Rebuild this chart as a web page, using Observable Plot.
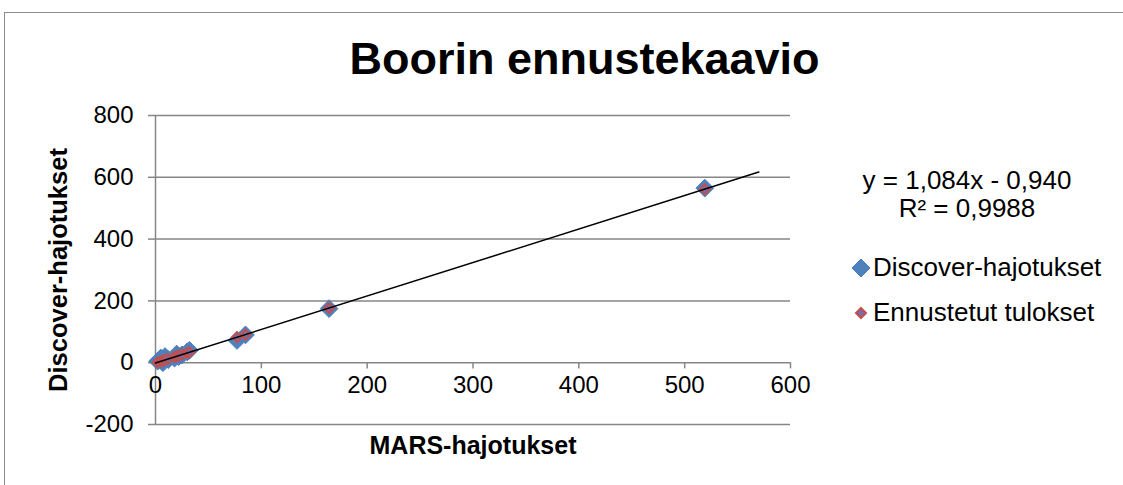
<!DOCTYPE html>
<html>
<head>
<meta charset="utf-8">
<script src="https://cdn.jsdelivr.net/npm/d3@7"></script>
<script src="https://cdn.jsdelivr.net/npm/@observablehq/plot@0.6"></script>
<style>
  html, body { margin: 0; padding: 0; background: #fff; }
  #wrap { position: relative; width: 1123px; height: 485px; overflow: hidden; font-family: "Liberation Sans", Arial, sans-serif; }
  #frame { position: absolute; left: 4px; top: 12px; width: 1200px; height: 600px; border: 1px solid #8c8c8c; box-sizing: border-box; }
  #chart { position: absolute; left: 0; top: 0; }
  .ov { position: absolute; color: #000; white-space: nowrap; }
  #title { left: 0; width: 1169px; top: 33px; text-align: center; font-weight: bold; font-size: 45px; }
  #eq { left: 817px; width: 300px; top: 166px; text-align: center; font-size: 26px; line-height: 28px; }
  .leg { left: 851px; font-size: 26px; display: flex; align-items: center; }
  .leg svg { margin-right: 2px; }
</style>
</head>
<body>
<div id="wrap">
  <div id="frame"></div>
  <div id="chart"></div>
  <div class="ov" id="title">Boorin ennustekaavio</div>
  <div class="ov" id="eq">y = 1,084x - 0,940<br>R² = 0,9988</div>
  <div class="ov leg" style="top:252px"><svg width="20" height="20"><polygon points="10,1 19,10 10,19 1,10" fill="#4F81BD" stroke="#4a7ebb" stroke-width="1"/></svg>Discover-hajotukset</div>
  <div class="ov leg" style="top:297px"><svg width="20" height="20"><polygon points="10,5 15,10 10,15 5,10" fill="#7a6aa8" stroke="#C0504D" stroke-width="2"/></svg>Ennustetut tulokset</div>
</div>
<script>
// ---- data ----
const marsValues = [2, 5, 7, 9, 12, 18, 20, 22, 25, 30, 32, 77, 85, 164, 519];
const discoverValues = [5, 15, 0, 20, 10, 15, 28, 20, 25, 35, 40, 72, 90, 175, 565];
const predictedValues = [1.2, 4.5, 6.6, 8.8, 12.1, 18.6, 20.7, 22.9, 26.2, 31.6, 33.7, 82.5, 91.2, 176.8, 561.7];
const trendX = [0, 570];
const trendY = [-0.94, 616.9];
const xTicks = [0, 100, 200, 300, 400, 500, 600];
const yTicks = [-200, 0, 200, 400, 600, 800];
const xTitle = "MARS-hajotukset";
const yTitle = "Discover-hajotukset";

const discover = marsValues.map((x, i) => ({x, y: discoverValues[i]}));
const predicted = marsValues.map((x, i) => ({x, y: predictedValues[i]}));
const trend = trendX.map((x, i) => ({x, y: trendY[i]}));

const gray = "#868686";
const chart = Plot.plot({
  width: 1123,
  height: 485,
  marginLeft: 155,
  marginRight: 333,
  marginTop: 115,
  marginBottom: 61,
  style: {fontFamily: "'Liberation Sans', Arial, sans-serif", background: "transparent", overflow: "visible"},
  x: {domain: [0, 600]},
  y: {domain: [-200, 800]},
  marks: [
    Plot.ruleY(yTicks, {x1: 0, x2: 600, stroke: gray, strokeWidth: 1.5}),
    Plot.ruleX([0], {y1: -200, y2: 800, stroke: gray, strokeWidth: 1.5}),
    Plot.ruleX(xTicks.slice(1), {y1: 0, y2: -20, stroke: gray, strokeWidth: 1.5}),
    Plot.axisY(yTicks, {tickSize: 7, tickPadding: 15, stroke: gray, strokeWidth: 1.5, fontSize: 24, fill: "#000", label: null, tickFormat: d => String(d)}),
    Plot.text(xTicks, {x: d => d, y: 0, dy: 23, text: d => String(d), fontSize: 24, fill: "#000"}),
    Plot.axisX({ticks: [], label: null, tickSize: 0}),
    Plot.dot(discover, {x: "x", y: "y", symbol: "diamond2", r: 8, fill: "#4F81BD", stroke: "#4a7ebb", strokeWidth: 1}),
    Plot.dot(predicted, {x: "x", y: "y", symbol: "diamond2", r: 4.5, fill: "#7a6aa8", stroke: "#C0504D", strokeWidth: 2}),
    Plot.line(trend, {x: "x", y: "y", stroke: "#000", strokeWidth: 1.5}),
    Plot.text([xTitle], {frameAnchor: "bottom", text: d => d, dy: 29, fontSize: 25, fontWeight: "bold", fill: "#000"}),
    Plot.text([yTitle], {frameAnchor: "left", textAnchor: "middle", text: d => d, rotate: -90, dx: -97, fontSize: 25.5, fontWeight: "bold", fill: "#000"})
  ]
});
document.getElementById("chart").appendChild(chart);
</script>
</body>
</html>
